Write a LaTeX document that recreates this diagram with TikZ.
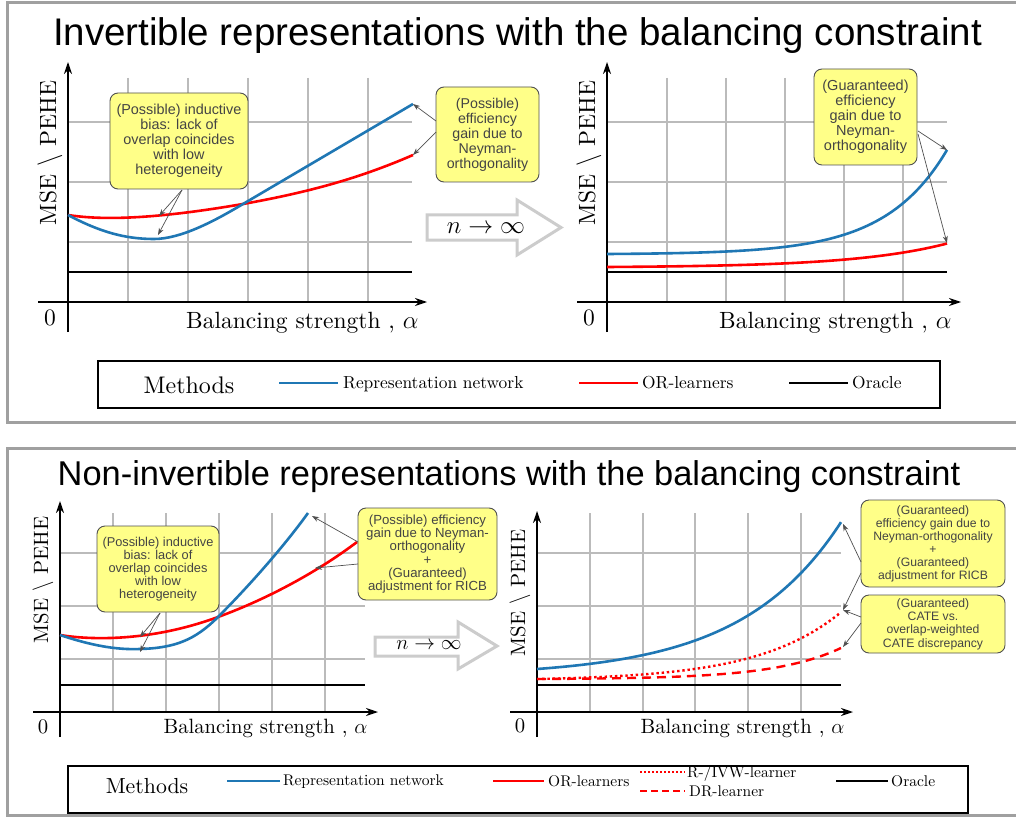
\documentclass[tikz,border=0pt]{standalone}
\usepackage{fontspec}
\setmainfont{lmroman10-regular}[Extension=.otf,ItalicFont=lmroman10-italic,BoldFont=lmroman10-bold]
\newfontfamily\sansf{Liberation Sans}
\usetikzlibrary{arrows.meta}
\definecolor{cblue}{HTML}{1F77B4}
\definecolor{cred}{HTML}{FF0000}
\definecolor{gridc}{HTML}{BBBBBB}
\definecolor{callfill}{HTML}{FFFF88}
\definecolor{calldraw}{HTML}{505050}
\definecolor{calltext}{HTML}{444444}
\definecolor{framec}{HTML}{A0A0A0}
\definecolor{harrow}{HTML}{CCCCCC}
\begin{document}
\begin{tikzpicture}[x=1pt,y=-1pt,
 gridline/.style={draw=gridc,line width=1.2pt},
 axisline/.style={line width=1.3pt,-{Stealth[length=12pt,width=8pt]}},
 bluecurve/.style={draw=cblue,line width=2.6pt},
 redcurve/.style={draw=cred,line width=2.6pt},
 oracleline/.style={draw=black,line width=2.6pt},
 callout/.style={draw=calldraw,fill=callfill,rounded corners=8pt,line width=0.9pt,text=calltext,align=center,inner sep=0pt},
 callarrow/.style={draw=calldraw,line width=0.7pt,-{Stealth[length=7pt,width=5pt]}},
 bigarrow/.style={draw=harrow,line width=3pt,fill=white,line join=miter},
 panel/.style={draw=framec,line width=3pt},
 legbox/.style={draw=black,line width=1.2pt},
 bigfont/.style={font=\fontsize{23.5}{28}\selectfont},
 smallfont/.style={font=\fontsize{20.7}{25}\selectfont},
]
\useasboundingbox (0,0) rectangle (1016,818);
\fill[white] (0,0) rectangle (1016,818);

% ---------------- panels ----------------
\draw[panel] (7,3) rectangle (1030,422);
\draw[panel] (7,448) rectangle (1030,815);

\node[font=\sansf\fontsize{38.5}{44}\selectfont,anchor=base] (title1) at (517.5,46) {Invertible representations with the balancing constraint};
\node[font=\sansf\fontsize{34.4}{40}\selectfont,anchor=base] (title2) at (509,485) {Non-invertible representations with the balancing constraint};

% ================= TOP LEFT =================
\foreach \x in {128,188,248,308,368} \draw[gridline] (\x,78) -- (\x,302);
\foreach \y in {122,182,242} \draw[gridline] (68,\y) -- (412,\y);
\draw[oracleline] (68,272) -- (412,272);
\draw[axisline] (68,332) -- (68,62);
\draw[axisline] (38,302) -- (427,302);
\node[bigfont,rotate=90] (ylab1) at (50,153) {MSE $\setminus$ PEHE};
\node[bigfont,anchor=base] (zero1) at (50,325) {0};
\node[bigfont,anchor=base east] (xlab1) at (422,328) {Balancing strength , $\alpha$};

\draw[redcurve] (68,215) .. controls (100,220) and (150,220) .. (243,204) .. controls (310,192) and (360,178) .. (413,155) coordinate (redend1);
\draw[bluecurve] (68,215) .. controls (100,232) and (125,239) .. (154,239) .. controls (180,239) and (213,222) .. (243,204) -- (413,104) coordinate (blueend1);

\node[callout,minimum width=138pt,minimum height=96pt,font=\sansf\fontsize{14.4}{15}\selectfont] (call1) at (179,141)
 {(Possible) inductive\\bias: lack of\\overlap coincides\\with low\\heterogeneity};
\coordinate (c1s) at (182,190);
\coordinate (c1r) at (159,216);
\coordinate (c1b) at (158,235);
\draw[callarrow] (c1s) -- (c1r);
\draw[callarrow] (c1s) -- (c1b);

\node[callout,minimum width=103pt,minimum height=95pt,font=\sansf\fontsize{14.2}{15}\selectfont] (call2) at (487.5,134.5)
 {(Possible)\\efficiency\\gain due to\\Neyman-\\orthogonality};
\draw[callarrow] (436,121) -- (blueend1);
\draw[callarrow] (436,132) -- (redend1);

% n -> infinity arrow (top)
\draw[bigarrow] (427,215) -- (517,215) -- (517,200) -- (561,227.5) -- (517,255) -- (517,240) -- (427,240) -- cycle;
\node[font=\fontsize{23}{27}\selectfont] (ninf1) at (486,228) {$n\to\infty$};

% ================= TOP RIGHT =================
\foreach \x in {667,726,785,844,903} \draw[gridline] (\x,78) -- (\x,302);
\foreach \y in {122,182,242} \draw[gridline] (607,\y) -- (947,\y);
\draw[oracleline] (607,272) -- (947,272);
\draw[axisline] (607,332) -- (607,62);
\draw[axisline] (577,302) -- (961,302);
\node[bigfont,rotate=90] (ylab2) at (589,153) {MSE $\setminus$ PEHE};
\node[bigfont,anchor=base] (zero2) at (589,325) {0};
\node[bigfont,anchor=base east] (xlab2) at (955,328) {Balancing strength , $\alpha$};

\draw[redcurve] plot[domain=0:340,samples=90] ({607+\x},{267-0.635*(exp(0.0107*\x)-1)});
\draw[bluecurve] plot[domain=0:340,samples=120] ({607+\x},{254-0.423*(exp(0.0162*\x)-1)});
\coordinate (blueend2) at (947,150);
\coordinate (redend2) at (947,243);

\node[callout,minimum width=103pt,minimum height=96pt,font=\sansf\fontsize{14.5}{15}\selectfont] (call3) at (865.5,117)
 {(Guaranteed)\\efficiency\\gain due to\\Neyman-\\orthogonality};
\draw[callarrow] (918,131) -- (blueend2);
\draw[callarrow] (918,134) -- (redend2);

% ---------------- top legend ----------------
\draw[legbox] (98,361) rectangle (940,408);
\node[font=\fontsize{24}{28}\selectfont,anchor=base] (meth1) at (189,393) {Methods};
\draw[bluecurve] (279,383) -- (338,383);
\node[font=\fontsize{17.4}{20}\selectfont,anchor=base west,inner sep=1pt] (lg1) at (342,388) {Representation network};
\draw[redcurve] (579,383) -- (638,383);
\node[font=\fontsize{17.4}{20}\selectfont,anchor=base west,inner sep=1pt] (lg2) at (641,388) {OR-learners};
\draw[oracleline] (789,383) -- (848,383);
\node[font=\fontsize{17.4}{20}\selectfont,anchor=base west,inner sep=1pt] (lg3) at (851,388) {Oracle};

% ================= BOTTOM LEFT =================
\foreach \x in {113,166,219,272,325} \draw[gridline] (\x,513) -- (\x,712);
\foreach \y in {553,606,659} \draw[gridline] (60,\y) -- (365,\y);
\draw[oracleline] (60,685) -- (365,685);
\draw[axisline] (60,737) -- (60,501);
\draw[axisline] (33,712) -- (378,712);
\node[smallfont,rotate=90] (ylab3) at (43,580) {MSE $\setminus$ PEHE};
\node[smallfont,anchor=base] (zero3) at (43,733) {0};
\node[smallfont,anchor=base east] (xlab3) at (371,733) {Balancing strength , $\alpha$};

\draw[redcurve] (60,635) .. controls (90,640) and (150,642) .. (218,617) .. controls (270,598) and (320,570) .. (357,542) coordinate (redend3);
\draw[bluecurve] (60,635) .. controls (90,645) and (115,650) .. (140,649) .. controls (175,648) and (195,640) .. (218,617) .. controls (250,585) and (285,545) .. (308,513) coordinate (blueend3);

\node[callout,minimum width=122pt,minimum height=86pt,font=\sansf\fontsize{12.8}{13}\selectfont] (call4) at (158,569)
 {(Possible) inductive\\bias: lack of\\overlap coincides\\with low\\heterogeneity};
\coordinate (c4s) at (160,613);
\coordinate (c4r) at (140,637);
\coordinate (c4b) at (140,652);
\draw[callarrow] (c4s) -- (c4r);
\draw[callarrow] (c4s) -- (c4b);

\node[callout,minimum width=139pt,minimum height=92pt,font=\sansf\fontsize{13.2}{13.3}\selectfont] (call5) at (427.5,554)
 {(Possible) efficiency\\gain due to Neyman-\\orthogonality\\+\\(Guaranteed)\\adjustment for RICB};
\coordinate (c5b) at (312,516);
\coordinate (c5r) at (315,568);
\draw[callarrow] (358,542) -- (c5b);
\draw[callarrow] (358,564) -- (c5r);

% n -> infinity arrow (bottom)
\draw[bigarrow] (375,637) -- (458,637) -- (458,622) -- (497,646) -- (458,669) -- (458,656) -- (375,656) -- cycle;
\node[font=\fontsize{21.5}{25}\selectfont] (ninf2) at (429,645) {$n\to\infty$};

% ================= BOTTOM RIGHT =================
\foreach \x in {590,643,695,748,801} \draw[gridline] (\x,513) -- (\x,712);
\foreach \y in {553,606,659} \draw[gridline] (537,\y) -- (841,\y);
\draw[oracleline] (537,685) -- (841,685);
\draw[axisline] (537,737) -- (537,511);
\draw[axisline] (510,712) -- (853,712);
\node[smallfont,rotate=90] (ylab4) at (520,593) {MSE $\setminus$ PEHE};
\node[smallfont,anchor=base] (zero4) at (520,732) {0};
\node[smallfont,anchor=base east] (xlab4) at (848,733) {Balancing strength , $\alpha$};

\draw[redcurve,line width=2.4pt,dash pattern=on 9pt off 6pt] plot[domain=0:304,samples=90] ({537+\x},{679-0.328*(exp(0.015*\x)-1)});
\draw[redcurve,line width=2.4pt,dash pattern=on 2.4pt off 2.8pt] plot[domain=0:304,samples=90] ({537+\x},{679-1.79*(exp(0.012*\x)-1)});
\draw[bluecurve] plot[domain=0:304,samples=100] ({537+\x},{669-7.39*(exp(0.01*\x)-1)});
\coordinate (blueend4) at (843,524);
\coordinate (dotend4) at (843,610);
\coordinate (dashend4) at (843,647);

\node[callout,minimum width=144pt,minimum height=87pt,font=\sansf\fontsize{12.2}{13}\selectfont] (call6) at (933,543.5)
 {(Guaranteed)\\efficiency gain due to\\Neyman-orthogonality\\+\\(Guaranteed)\\adjustment for RICB};
\node[callout,minimum width=144pt,minimum height=58pt,font=\sansf\fontsize{12.2}{13.3}\selectfont] (call7) at (933,624)
 {(Guaranteed)\\CATE vs.\\overlap-weighted\\CATE discrepancy};
\draw[callarrow] (861,562) -- (blueend4);
\draw[callarrow] (861,573) -- (dotend4);
\draw[callarrow] (861,617) -- (dotend4);
\draw[callarrow] (861,623) -- (dashend4);

% ---------------- bottom legend ----------------
\draw[legbox] (68,766) rectangle (968,813);
\node[font=\fontsize{21.8}{26}\selectfont,anchor=base] (meth2) at (147,793) {Methods};
\draw[bluecurve] (227,781) -- (280,781);
\node[font=\fontsize{15.5}{18}\selectfont,anchor=base west,inner sep=1pt] (lg4) at (282,785) {Representation network};
\draw[redcurve] (493,781) -- (544,781);
\node[font=\fontsize{15.5}{18}\selectfont,anchor=base west,inner sep=1pt] (lg5) at (547,786) {OR-learners};
\draw[redcurve,line width=2pt,dash pattern=on 2pt off 2pt] (640,772) -- (685,772);
\node[font=\fontsize{15.5}{18}\selectfont,anchor=base west,inner sep=1pt] (lg6) at (686,777) {R-/IVW-learner};
\draw[redcurve,line width=2pt,dash pattern=on 7pt off 4pt] (640,791) -- (685,791);
\node[font=\fontsize{15.5}{18}\selectfont,anchor=base west,inner sep=1pt] (lg7) at (688,796) {DR-learner};
\draw[oracleline] (836,781) -- (888,781);
\node[font=\fontsize{15.5}{18}\selectfont,anchor=base west,inner sep=1pt] (lg8) at (890,786) {Oracle};
\end{tikzpicture}
\end{document}
